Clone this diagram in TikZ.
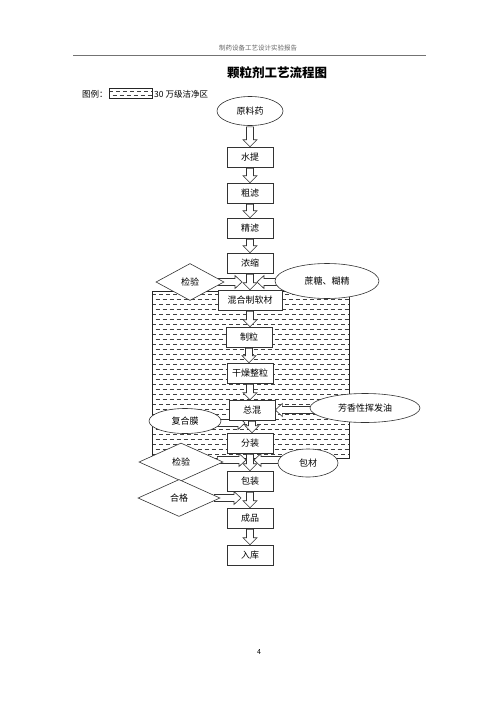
\documentclass[tikz,border=0pt]{standalone}
\usepackage{fontspec}
\setmainfont{Noto Sans CJK SC}
\usetikzlibrary{shapes.geometric,calc}
\pgfdeclarelayer{bg}
\pgfdeclarelayer{mid}
\pgfsetlayers{bg,mid,main}
\tikzset{
  box/.style={draw=black!80,line width=0.6pt,fill=white,minimum width=46pt,minimum height=20pt,inner sep=2pt,font=\fontsize{9}{10}\selectfont},
  oval/.style={draw=black!80,line width=0.6pt,fill=white,ellipse,inner sep=0pt,font=\fontsize{9}{10}\selectfont},
  dia/.style={draw=black!80,line width=0.6pt,fill=white,diamond,inner sep=0pt,font=\fontsize{9}{10}\selectfont},
  blockarr/.style={draw=black!80,line width=0.6pt,fill=white,line join=miter},
  hatchline/.style={line width=0.55pt,black!75,dash pattern=on 4pt off 3pt},
}
% vertical hollow arrow from node #1 (south) down to node #2 (north)
\newcommand\dnarr[2]{%
  \draw[blockarr] let \p1=(#1.south), \p2=(#2.north) in
   (\x1-3.5pt,\y1-1pt) -- (\x1-3.5pt,\y2+7pt) -- (\x1-7pt,\y2+7pt) -- (\x1,\y2) --
   (\x1+7pt,\y2+7pt) -- (\x1+3.5pt,\y2+7pt) -- (\x1+3.5pt,\y1-1pt) -- cycle;}
% horizontal hollow arrow pointing right, from #1 to tip #2 (at y of #2)
\newcommand\rtarr[2]{%
  \draw[blockarr] let \p1=(#1), \p2=(#2) in
   (\x1,\y2+3.5pt) -- (\x2-7pt,\y2+3.5pt) -- (\x2-7pt,\y2+6.5pt) -- (\x2,\y2) --
   (\x2-7pt,\y2-6.5pt) -- (\x2-7pt,\y2-3.5pt) -- (\x1,\y2-3.5pt) -- cycle;}
% horizontal hollow arrow pointing left
\newcommand\ltarr[2]{%
  \draw[blockarr] let \p1=(#1), \p2=(#2) in
   (\x1,\y2+3.5pt) -- (\x2+7pt,\y2+3.5pt) -- (\x2+7pt,\y2+6.5pt) -- (\x2,\y2) --
   (\x2+7pt,\y2-6.5pt) -- (\x2+7pt,\y2-3.5pt) -- (\x1,\y2-3.5pt) -- cycle;}
\begin{document}
\begin{tikzpicture}[x=1pt,y=-1pt]
\useasboundingbox (0,0) rectangle (500,707);
\begin{pgfonlayer}{bg}
\fill[white] (0,0) rectangle (500,707);
\end{pgfonlayer}

% header
\node[text=black!60,font=\fontsize{6.5}{7}\selectfont] (hdr) at (258,48) {制药设备工艺设计实验报告};
\draw[black!55,line width=0.9pt] (73,55) -- (426,55);
\node[font=\fontsize{12.5}{14}\selectfont\bfseries] (title) at (277,73) {颗粒剂工艺流程图};

% legend
\node[anchor=west,font=\fontsize{8.5}{10}\selectfont,inner sep=0pt] (lg1) at (82,94) {图例：};
\node[anchor=west,font=\fontsize{8.5}{10}\selectfont,inner sep=0pt] (lg2) at (154,94) {30 万级洁净区};
\begin{scope}
  \clip (109,88.5) rectangle (152,98.5);
  \foreach \yy/\ph in {91.5/0,95.5/3.5}{
    \draw[hatchline,dash phase=\ph] (109,\yy) -- (152,\yy);
  }
\end{scope}
\draw[black!85,line width=0.7pt] (109,88.5) rectangle (152,98.5);

% clean zone
\begin{pgfonlayer}{bg}
\begin{scope}
  \clip (152,291) rectangle (349,458);
  \foreach \i in {0,...,33}{
    \pgfmathsetmacro\yy{294+5*\i}
    \pgfmathsetmacro\ph{mod(\i,2)*3.5}
    \draw[hatchline,dash phase=\ph] (152,\yy) -- (349,\yy);
  }
\end{scope}
\draw[black!85,line width=1pt] (152,291) rectangle (349,458);
\end{pgfonlayer}

% main column
\node[oval,minimum width=66pt,minimum height=29pt] (raw) at (250,111) {原料药};
\node[box] (b1) at (250,157) {水提};
\node[box] (b2) at (250,193) {粗滤};
\node[box] (b3) at (250,228) {精滤};
\node[box] (b4) at (250,263) {浓缩};
\node[box,minimum width=64pt] (b5) at (250,300) {混合制软材};
\node[box] (b6) at (249,337) {制粒};
\node[box] (b7) at (250,373) {干燥整粒};
\node[box] (b8) at (252,410) {总混};
\node[box] (b9) at (250,443) {分装};
\node[box] (b10) at (250,481) {包装};
\node[box] (b11) at (250,518) {成品};
\node[box] (b12) at (250,555) {入库};

% side inputs
\node[dia,minimum width=68pt,minimum height=37pt] (d1) at (190,282) {检验};
\node[oval,minimum width=104pt,minimum height=35pt] (e1) at (327,281) {蔗糖、糊精};
\node[oval,minimum width=110pt,minimum height=29pt] (e2) at (365,408) {芳香性挥发油};
\node[oval,minimum width=72pt,minimum height=25pt] (e3) at (185,421) {复合膜};
\node[dia,minimum width=84pt,minimum height=38pt] (d2) at (181,462) {检验};
\node[oval,minimum width=60pt,minimum height=28pt] (e4) at (308,463) {包材};
\node[dia,minimum width=82pt,minimum height=37pt] (d3) at (179,498) {合格};

\coordinate (t1) at (242,282);
\coordinate (t2) at (257,282);
\coordinate (t3) at (245,423);
\coordinate (t4) at (246,460);
\coordinate (t5) at (254,460);
\coordinate (t6) at (241,498);

\begin{pgfonlayer}{mid}
  \dnarr{raw}{b1}
  \dnarr{b1}{b2}
  \dnarr{b2}{b3}
  \dnarr{b3}{b4}
  \dnarr{b4}{b5}
  \dnarr{b5}{b6}
  \dnarr{b6}{b7}
  \dnarr{b7}{b8}
  \dnarr{b8}{b9}
  \dnarr{b9}{b10}
  \dnarr{b10}{b11}
  \dnarr{b11}{b12}
  \rtarr{$(d1.east)+(-6,0)$}{t1}
  \ltarr{$(e1.west)+(6,0)$}{t2}
  \ltarr{$(e2.west)+(6,0)$}{b8.east}
  \rtarr{$(e3.east)+(-6,0)$}{t3}
  \rtarr{$(d2.east)+(-6,0)$}{t4}
  \ltarr{$(e4.west)+(6,0)$}{t5}
  \rtarr{$(d3.east)+(-6,0)$}{t6}
\end{pgfonlayer}

% page number
\node[font=\fontsize{7}{8}\selectfont] (pg) at (259,652) {4};
\end{tikzpicture}
\end{document}
